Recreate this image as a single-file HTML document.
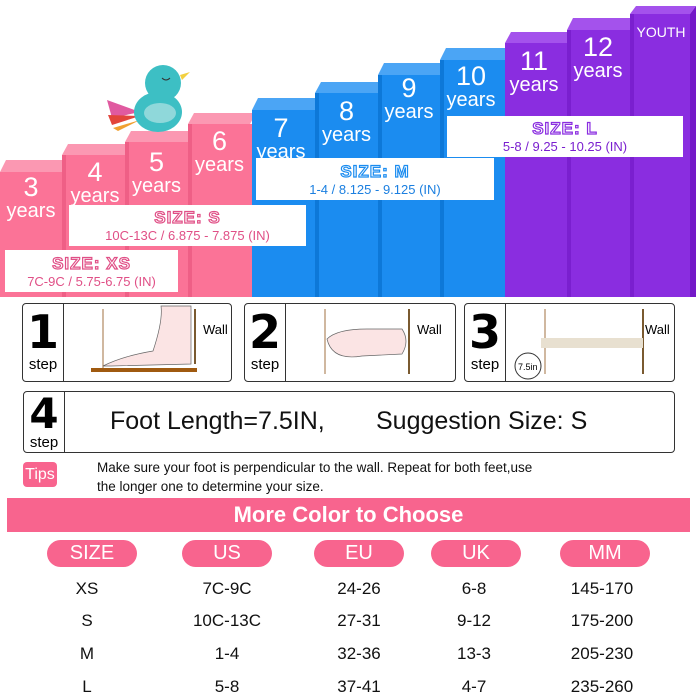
<!DOCTYPE html>
<html><head><style>
body{margin:0;width:700px;height:700px;background:#fff;position:relative;overflow:hidden;font-family:"Liberation Sans","DejaVu Sans",sans-serif}
.a{position:absolute}
.lbl{position:absolute;color:#fff;text-align:center;line-height:1}
.box{position:absolute;background:#fff;text-align:center;line-height:1}
.sz{font-weight:bold;font-size:17px;color:#fff;-webkit-text-stroke:1.2px;letter-spacing:1px}
.sub{font-size:13px}
.step{position:absolute;border:1.5px solid #333;border-radius:4px;background:#fff}
.num{position:absolute;left:0;top:0;width:40px;height:100%;border-right:1.5px solid #333;text-align:center}
.num b{display:block;font-size:46px;line-height:48px;margin-top:4px;font-family:"DejaVu Sans",sans-serif}
.num span{font-size:15px}
.pill{position:absolute;top:540px;height:27px;width:90px;border-radius:14px;background:#f8648e;color:#fff;font-size:20px;text-align:center;line-height:27px}
.row{position:absolute;font-size:17px;color:#111;text-align:center;width:120px}
</style></head><body>
<svg class="a" style="left:0;top:0" width="700" height="300">
<g>
<polygon points="0,172 6,160 68,160 62,172" fill="#fb98b2"/><rect x="0" y="172" width="62" height="125" fill="#fb7397"/>
<polygon points="62,155 68,144 131,144 125,155" fill="#fb98b2"/><rect x="62" y="155" width="63" height="142" fill="#fb7397"/><rect x="62" y="155" width="4" height="142" fill="#ef5f86"/>
<polygon points="125,142 131,131 194,131 188,142" fill="#fb98b2"/><rect x="125" y="142" width="63" height="155" fill="#fb7397"/><rect x="125" y="142" width="4" height="155" fill="#ef5f86"/>
<polygon points="188,124 194,113 256,113 250,124" fill="#fb98b2"/><rect x="188" y="124" width="64" height="173" fill="#fb7397"/><rect x="188" y="124" width="4" height="173" fill="#ef5f86"/>
<polygon points="252,110 258,98 321,98 315,110" fill="#4ba5f5"/><rect x="252" y="110" width="63" height="187" fill="#1b8cf0"/>
<polygon points="315,93 321,82 384,82 378,93" fill="#4ba5f5"/><rect x="315" y="93" width="63" height="204" fill="#1b8cf0"/><rect x="315" y="93" width="4" height="204" fill="#0d78d8"/>
<polygon points="378,75 384,63 446,63 440,75" fill="#4ba5f5"/><rect x="378" y="75" width="62" height="222" fill="#1b8cf0"/><rect x="378" y="75" width="4" height="222" fill="#0d78d8"/>
<polygon points="440,60 446,48 511,48 505,60" fill="#4ba5f5"/><rect x="440" y="60" width="65" height="237" fill="#1b8cf0"/><rect x="440" y="60" width="4" height="237" fill="#0d78d8"/>
<polygon points="505,43 511,32 573,32 567,43" fill="#a452ec"/><rect x="505" y="43" width="62" height="254" fill="#8a2de0"/>
<polygon points="567,30 573,18 636,18 630,30" fill="#a452ec"/><rect x="567" y="30" width="63" height="267" fill="#8a2de0"/><rect x="567" y="30" width="4" height="267" fill="#7a1fcf"/>
<polygon points="630,14 636,6 696,6 690,14" fill="#a452ec"/><rect x="630" y="14" width="60" height="283" fill="#8a2de0"/><rect x="630" y="14" width="4" height="283" fill="#7a1fcf"/><polygon points="690,14 696,6 696,297 690,297" fill="#7418c8"/>
</g>
<polygon points="140,112 107,100 112,118" fill="#e05aa0"/><polygon points="140,116 108,115 112,125" fill="#e2453b"/><polygon points="140,120 113,128 118,131" fill="#f0a030"/>
<ellipse cx="158" cy="112" rx="24" ry="20" fill="#3dbfc4"/><circle cx="163" cy="83" r="18" fill="#3dbfc4"/>
<ellipse cx="160" cy="113" rx="16" ry="10" fill="#8fd8da"/><polygon points="180,75 190,72 182,80" fill="#f2d040"/>
<path d="M162,78 q4,4 8,0" stroke="#333" fill="none"/>
</svg>
<div class="lbl" style="left:0;top:174px;width:62px"><div style="font-size:27px">3</div><div style="font-size:20px">years</div></div>
<div class="lbl" style="left:64px;top:159px;width:62px"><div style="font-size:27px">4</div><div style="font-size:20px">years</div></div>
<div class="lbl" style="left:125px;top:149px;width:63px"><div style="font-size:27px">5</div><div style="font-size:20px">years</div></div>
<div class="lbl" style="left:188px;top:128px;width:63px"><div style="font-size:27px">6</div><div style="font-size:20px">years</div></div>
<div class="lbl" style="left:252px;top:115px;width:58px"><div style="font-size:27px">7</div><div style="font-size:20px">years</div></div>
<div class="lbl" style="left:315px;top:98px;width:63px"><div style="font-size:27px">8</div><div style="font-size:20px">years</div></div>
<div class="lbl" style="left:378px;top:75px;width:62px"><div style="font-size:27px">9</div><div style="font-size:20px">years</div></div>
<div class="lbl" style="left:440px;top:63px;width:62px"><div style="font-size:27px">10</div><div style="font-size:20px">years</div></div>
<div class="lbl" style="left:505px;top:48px;width:58px"><div style="font-size:27px">11</div><div style="font-size:20px">years</div></div>
<div class="lbl" style="left:567px;top:34px;width:62px"><div style="font-size:27px">12</div><div style="font-size:20px">years</div></div>
<div class="lbl" style="left:630px;top:25px;width:62px;font-size:14px">YOUTH</div>
<div class="box" style="left:5px;top:250px;width:173px;height:42px"><div class="sz" style="-webkit-text-stroke-color:#e04f86;margin-top:5px">SIZE: XS</div><div class="sub" style="color:#e04f86;margin-top:3px">7C-9C / 5.75-6.75 (IN)</div></div>
<div class="box" style="left:69px;top:205px;width:237px;height:41px"><div class="sz" style="-webkit-text-stroke-color:#e04f86;margin-top:4px">SIZE: S</div><div class="sub" style="color:#e04f86;margin-top:3px">10C-13C / 6.875 - 7.875 (IN)</div></div>
<div class="box" style="left:256px;top:158px;width:238px;height:42px"><div class="sz" style="-webkit-text-stroke-color:#1b8cf0;margin-top:5px">SIZE: M</div><div class="sub" style="color:#1b7fe0;margin-top:3px">1-4 / 8.125 - 9.125 (IN)</div></div>
<div class="box" style="left:447px;top:116px;width:236px;height:41px"><div class="sz" style="-webkit-text-stroke-color:#8a2de0;margin-top:4px">SIZE: L</div><div class="sub" style="color:#7a1fcf;margin-top:3px">5-8 / 9.25 - 10.25 (IN)</div></div>

<div class="step" style="left:22px;top:303px;width:208px;height:77px"><div class="num"><b>1</b><span>step</span></div>
<svg class="a" style="left:42px;top:0" width="166" height="77"><line x1="38" y1="5" x2="38" y2="68" stroke="#a07040"/><line x1="130" y1="5" x2="130" y2="60" stroke="#7a5a30" stroke-width="2"/><rect x="26" y="64" width="106" height="4" fill="#a05a10"/><path d="M38,62 q20,-10 50,-15 q10,-30 8,-45 l30,0 l0,58 l-80,2z" fill="#fbe4e4" stroke="#666" stroke-width="0.7"/><text x="138" y="30" font-size="13" font-family="Liberation Sans">Wall</text></svg></div>
<div class="step" style="left:244px;top:303px;width:210px;height:77px"><div class="num"><b>2</b><span>step</span></div>
<svg class="a" style="left:42px;top:0" width="166" height="77"><line x1="38" y1="5" x2="38" y2="70" stroke="#a07040"/><line x1="122" y1="5" x2="122" y2="70" stroke="#7a5a30" stroke-width="2"/><path d="M40,35 q10,-10 40,-10 l35,0 q8,12 0,25 l-40,2 q-30,5 -35,-17z" fill="#fbe4e4" stroke="#666" stroke-width="0.7"/><text x="130" y="30" font-size="13" font-family="Liberation Sans">Wall</text></svg></div>
<div class="step" style="left:464px;top:303px;width:209px;height:77px"><div class="num"><b>3</b><span>step</span></div>
<svg class="a" style="left:42px;top:0" width="166" height="77"><line x1="38" y1="5" x2="38" y2="70" stroke="#a07040"/><line x1="136" y1="5" x2="136" y2="70" stroke="#7a5a30" stroke-width="2"/><rect x="34" y="34" width="102" height="10" fill="#e8e0d0"/><circle cx="21" cy="62" r="13" fill="#fff" stroke="#333"/><text x="11" y="66" font-size="9" font-family="Liberation Sans">7.5in</text><text x="138" y="30" font-size="13" font-family="Liberation Sans">Wall</text></svg></div>
<div class="step" style="left:23px;top:391px;width:650px;height:60px"><div class="num"><b style="font-size:42px;line-height:40px;margin-top:2px">4</b><span>step</span></div>
<div class="a" style="left:86px;top:15px;font-size:25px;color:#111">Foot Length=7.5IN,</div><div class="a" style="left:352px;top:15px;font-size:25px;color:#111">Suggestion Size: S</div></div>
<div class="a" style="left:23px;top:462px;width:34px;height:25px;background:#f8648e;border-radius:4px;color:#fff;font-size:16px;text-align:center;line-height:25px">Tips</div>
<div class="a" style="left:97px;top:458px;font-size:13.5px;line-height:19px;color:#111">Make sure your foot is perpendicular to the wall. Repeat for both feet,use<br>the longer one to determine your size.</div>
<div class="a" style="left:7px;top:498px;width:683px;height:34px;background:#f8648e;color:#fff;font-size:22px;font-weight:bold;text-align:center;line-height:34px">More Color to Choose</div>
<div class="pill" style="left:47px">SIZE</div><div class="pill" style="left:182px">US</div><div class="pill" style="left:314px">EU</div><div class="pill" style="left:431px">UK</div><div class="pill" style="left:560px">MM</div>
<div class="row" style="left:27px;top:579px">XS</div><div class="row" style="left:167px;top:579px">7C-9C</div><div class="row" style="left:299px;top:579px">24-26</div><div class="row" style="left:414px;top:579px">6-8</div><div class="row" style="left:542px;top:579px">145-170</div>
<div class="row" style="left:27px;top:611px">S</div><div class="row" style="left:167px;top:611px">10C-13C</div><div class="row" style="left:299px;top:611px">27-31</div><div class="row" style="left:414px;top:611px">9-12</div><div class="row" style="left:542px;top:611px">175-200</div>
<div class="row" style="left:27px;top:644px">M</div><div class="row" style="left:167px;top:644px">1-4</div><div class="row" style="left:299px;top:644px">32-36</div><div class="row" style="left:414px;top:644px">13-3</div><div class="row" style="left:542px;top:644px">205-230</div>
<div class="row" style="left:27px;top:677px">L</div><div class="row" style="left:167px;top:677px">5-8</div><div class="row" style="left:299px;top:677px">37-41</div><div class="row" style="left:414px;top:677px">4-7</div><div class="row" style="left:542px;top:677px">235-260</div>
</body></html>
